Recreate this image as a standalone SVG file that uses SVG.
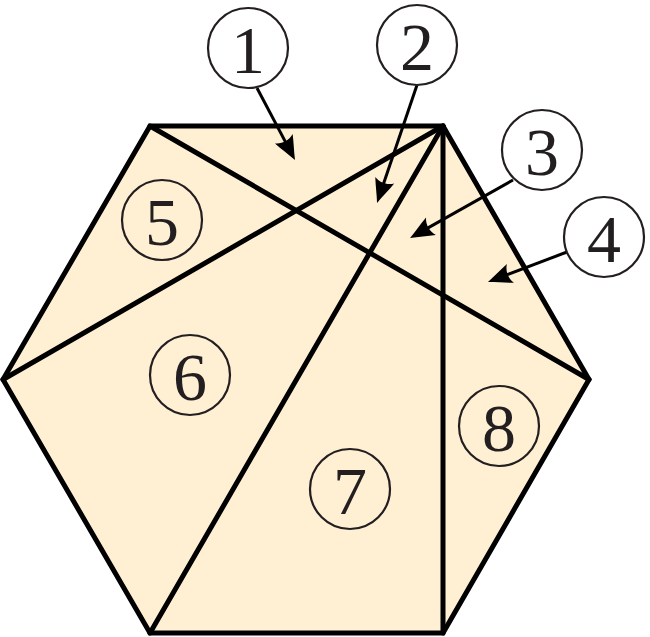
<svg xmlns="http://www.w3.org/2000/svg" width="650" height="637" viewBox="0 0 650 637">
<style>
.edge{stroke:#000;stroke-width:5;fill:none;stroke-linecap:round;stroke-linejoin:miter}
.ring{fill:none;stroke:#231F20;stroke-width:2.2}
.num{font-family:"Liberation Serif","DejaVu Serif",serif;font-size:68px;fill:#231F20;text-anchor:middle}
.arrow{stroke:#000;stroke-width:3;fill:none;marker-end:url(#head)}
</style>
<defs>
<marker id="head" markerUnits="userSpaceOnUse" viewBox="-14 -12 28 24" refX="0" refY="0" markerWidth="28" markerHeight="24" orient="auto" overflow="visible">
<path d="M12,0 C4,-3 -4,-7 -12,-10 C-8,-4 -8,4 -12,10 C-4,7 4,3 12,0Z" fill="#000"/>
</marker>
</defs>
<g id="hexagon">
<polygon points="150,126 443,126 589,379.5 443,633 150,633 3,379.5" fill="#FFF0D4" stroke="none"/>
<line class="edge" x1="150" y1="126" x2="589" y2="379.5"/>
<line class="edge" x1="443" y1="126" x2="3" y2="379.5"/>
<line class="edge" x1="443" y1="126" x2="150" y2="633"/>
<line class="edge" x1="443" y1="126" x2="443" y2="633"/>
<polygon class="edge" points="150,126 443,126 589,379.5 443,633 150,633 3,379.5"/>
</g>
<g id="connectors">
<line class="arrow" x1="257" y1="88" x2="289.4" y2="149.4"/>
<line class="arrow" x1="417" y1="85" x2="380.9" y2="191.6"/>
<line class="arrow" x1="513" y1="180" x2="420.5" y2="232.1"/>
<line class="arrow" x1="567" y1="252" x2="499.2" y2="277.7"/>
</g>
<g id="n1"><circle class="ring" cx="248" cy="48" r="40"/><text class="num" x="248" y="73">1</text></g>
<g id="n2"><circle class="ring" cx="417" cy="45" r="40"/><text class="num" x="417" y="70">2</text></g>
<g id="n3"><circle class="ring" cx="542" cy="150" r="40"/><text class="num" x="542" y="175">3</text></g>
<g id="n4"><circle class="ring" cx="604" cy="237" r="40"/><text class="num" x="604" y="262">4</text></g>
<g id="n5"><circle class="ring" cx="162" cy="220" r="40"/><text class="num" x="162" y="245">5</text></g>
<g id="n6"><circle class="ring" cx="190" cy="375" r="40"/><text class="num" x="190" y="400">6</text></g>
<g id="n7"><circle class="ring" cx="350" cy="489" r="40"/><text class="num" x="350" y="514">7</text></g>
<g id="n8"><circle class="ring" cx="499" cy="426" r="40"/><text class="num" x="499" y="451">8</text></g>
</svg>
